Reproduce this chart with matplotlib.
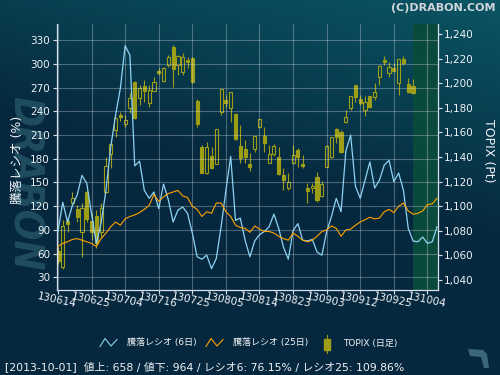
import numpy as np
import matplotlib
matplotlib.use('Agg')
import matplotlib.pyplot as plt
from matplotlib.patches import Polygon, Rectangle
from matplotlib.ticker import StrMethodFormatter

plt.rcParams['font.family'] = ['DejaVu Sans', 'Noto Sans CJK JP']

# trading days (yymmdd)
trading_days = [
    '130614', '130617', '130618', '130619', '130620', '130621', '130624', '130625',
    '130626', '130627', '130628', '130701', '130702', '130703', '130704', '130705',
    '130708', '130709', '130710', '130711', '130712', '130716', '130717', '130718',
    '130719', '130722', '130723', '130724', '130725', '130726', '130729', '130730',
    '130731', '130801', '130802', '130805', '130806', '130807', '130808', '130809',
    '130812', '130813', '130814', '130815', '130816', '130819', '130820', '130821',
    '130822', '130823', '130826', '130827', '130828', '130829', '130830', '130902',
    '130903', '130904', '130905', '130906', '130909', '130910', '130911', '130912',
    '130913', '130917', '130918', '130919', '130920', '130924', '130925', '130926',
    '130927', '130930', '131001', '131002', '131003', '131004', '131007', '131008',
]

# 騰落レシオ 6日 / 25日 (%)
ratio6 = [88, 125, 100, 121, 134, 159, 149, 110, 73, 99,
          140, 195, 235, 269, 323, 311, 171, 177, 140, 130,
          138, 117, 148, 128, 100, 115, 119, 111, 86, 56,
          53, 58, 41, 54, 94, 140, 183, 102, 105, 77,
          56, 76, 84, 88, 94, 110, 92, 68, 53, 89,
          98, 77, 76, 78, 62, 58, 88, 107, 130, 113,
          190, 210, 145, 130, 153, 176, 143, 153, 172, 178,
          151, 162, 140, 92, 76, 75, 81, 73, 75, 94]
ratio25 = [69, 73, 75, 78, 79, 77, 75, 73, 69, 79,
           86, 94, 100, 96, 104, 107, 109, 112, 116, 121,
           135, 126, 132, 136, 138, 140, 133, 131, 120, 116,
           107, 113, 111, 124, 124, 113, 107, 96, 93, 92,
           87, 95, 91, 88, 88, 86, 82, 79, 77, 86,
           82, 77, 75, 77, 82, 88, 90, 95, 92, 82,
           90, 91, 96, 100, 103, 106, 104, 105, 113, 116,
           112, 120, 124, 114, 110, 111, 114, 122, 123, 130]

# TOPIX daily candles
topix_open = [1063.6, 1050.1, 1087.8, 1102.8, 1097.4, 1078.6, 1111.7, 1087.8, 1091.9, 1079.1,
              1111.7, 1142.4, 1162.0, 1174.2, 1166.7, 1179.7, 1201.4, 1187.8, 1197.9, 1184.0,
              1194.0, 1210.3, 1202.2, 1215.0, 1229.4, 1215.0, 1209.5, 1219.1, 1220.9, 1185.6,
              1148.4, 1126.7, 1140.8, 1134.1, 1176.9, 1186.5, 1179.7, 1175.0, 1149.0, 1146.3,
              1134.3, 1146.3, 1164.2, 1157.1, 1135.4, 1142.4, 1139.8, 1125.3, 1114.5, 1134.9,
              1145.7, 1134.1, 1114.5, 1114.5, 1123.9, 1108.5, 1132.1, 1139.8, 1162.6, 1160.6,
              1168.8, 1179.7, 1198.7, 1187.3, 1178.3, 1189.7, 1188.7, 1205.0, 1219.1, 1208.2,
              1212.8, 1200.1, 1219.9, 1199.3, 1197.9]
topix_high = [1066.7, 1088.7, 1091.3, 1111.7, 1100.9, 1102.8, 1113.3, 1094.4, 1096.8, 1102.8,
              1140.2, 1153.0, 1172.8, 1176.7, 1174.2, 1191.9, 1202.2, 1198.7, 1202.8, 1198.7,
              1205.4, 1212.3, 1213.0, 1223.1, 1231.3, 1223.1, 1224.5, 1221.3, 1221.7, 1187.0,
              1149.8, 1152.5, 1148.4, 1163.0, 1195.5, 1190.5, 1193.0, 1175.5, 1166.1, 1153.9,
              1143.0, 1157.5, 1171.0, 1164.7, 1149.8, 1150.6, 1148.4, 1130.8, 1126.7, 1149.8,
              1147.0, 1141.6, 1119.1, 1118.6, 1128.0, 1120.4, 1149.8, 1156.5, 1163.4, 1162.0,
              1178.3, 1190.0, 1199.0, 1190.5, 1189.7, 1190.0, 1200.1, 1214.7, 1222.3, 1217.7,
              1216.9, 1220.0, 1222.3, 1204.1, 1203.3]
topix_low = [1052.8, 1048.7, 1079.1, 1100.9, 1087.3, 1058.7, 1087.3, 1072.4, 1065.6, 1075.1,
             1110.4, 1131.0, 1156.5, 1169.3, 1164.7, 1175.6, 1171.0, 1182.4, 1185.1, 1180.5,
             1193.5, 1206.8, 1201.0, 1213.6, 1197.3, 1206.8, 1206.8, 1212.3, 1200.1, 1164.2,
             1127.0, 1126.5, 1130.5, 1134.0, 1174.2, 1180.5, 1168.8, 1154.0, 1135.4, 1134.9,
             1128.8, 1144.1, 1163.4, 1144.3, 1134.9, 1141.0, 1125.3, 1113.1, 1113.1, 1134.5,
             1132.1, 1130.8, 1102.8, 1110.4, 1103.6, 1107.6, 1131.8, 1139.2, 1151.2, 1143.0,
             1167.5, 1178.3, 1185.1, 1182.4, 1173.4, 1179.7, 1186.5, 1198.7, 1215.0, 1205.4,
             1209.5, 1190.5, 1215.0, 1192.4, 1191.3]
topix_close = [1055.5, 1084.0, 1085.4, 1106.3, 1091.3, 1098.7, 1089.2, 1078.6, 1069.7, 1098.2,
               1132.9, 1150.4, 1171.5, 1172.8, 1170.2, 1187.8, 1171.5, 1196.0, 1194.0, 1194.6,
               1201.4, 1208.7, 1212.3, 1221.7, 1211.5, 1222.3, 1221.7, 1217.7, 1201.4, 1166.7,
               1127.2, 1148.4, 1130.8, 1162.6, 1195.2, 1183.8, 1192.7, 1154.4, 1138.9, 1140.2,
               1131.6, 1157.1, 1170.7, 1151.2, 1142.4, 1149.0, 1126.1, 1121.3, 1119.9, 1141.6,
               1139.8, 1132.7, 1112.5, 1116.6, 1105.0, 1117.8, 1149.0, 1156.1, 1156.5, 1144.3,
               1172.4, 1189.7, 1188.7, 1183.8, 1185.1, 1180.5, 1193.2, 1214.4, 1217.4, 1213.6,
               1210.3, 1219.6, 1216.4, 1193.2, 1192.4]

# footer values
info_date = '2013-10-01'
advances = 658
declines = 964
last_r6 = 76.15
last_r25 = 109.86

BLUE = '#8ed2f4'
ORANGE = '#ffa200'
OLIVE = '#9e9e16'
TXT = '#eef2f6'

fig = plt.figure(figsize=(5, 3.75), dpi=100)

# background gradient
bg = fig.add_axes([0, 0, 1, 1], zorder=0)
yy, xx = np.mgrid[0:375, 0:500]
t = np.clip(0.45 + xx / 1000 - yy / 250, 0, 1)[..., None]
teal = np.array([11, 88, 102]) / 255
navy = np.array([6, 40, 62]) / 255
bg.imshow(teal * t + navy * (1 - t), extent=(0, 500, 375, 0), aspect='auto')
bg.set_xlim(0, 500)
bg.set_ylim(375, 0)
bg.axis('off')
bg.text(24, 183, 'DRABON', rotation=-90, fontsize=29, style='italic', weight='heavy',
        fontstretch='condensed', color='#1f4d5f', ha='center', va='center')

# main axes
ax = fig.add_axes([57 / 500, 85 / 375, 381 / 500, 266 / 375])
ax2 = ax.twinx()
ax.set_zorder(ax2.get_zorder() + 1)
ax.patch.set_visible(False)
ax2.set_facecolor('#1a3562')

x = np.arange(len(ratio6))
xmax = len(ratio6) - 0.8
ax.set_xlim(-0.2, xmax)

# future zone
ax2.axvspan(trading_days.index('131001') - 0.1, xmax, color='#0a4a3c', lw=0, zorder=0)

# candles
o = np.array(topix_open)
h = np.array(topix_high)
l = np.array(topix_low)
c = np.array(topix_close)
xc = np.arange(len(o))
top = np.maximum(o, c)
bot = np.minimum(o, c)
up = c >= o
ax2.vlines(xc, top, h, color=OLIVE, lw=0.8, zorder=2)
ax2.vlines(xc, l, bot, color=OLIVE, lw=0.8, zorder=2)
ax2.bar(xc[up], (top - bot)[up], bottom=bot[up], width=0.66, facecolor='none',
        edgecolor=OLIVE, lw=0.8, zorder=3)
ax2.bar(xc[~up], (top - bot)[~up], bottom=bot[~up], width=0.66, facecolor=OLIVE,
        edgecolor=OLIVE, lw=0.8, zorder=3)
ax2.set_ylim(1031.6, 1248.4)
ax2.set_yticks(np.arange(1040, 1241, 20))
ax2.yaxis.set_major_formatter(StrMethodFormatter('{x:,.0f}'))

# ratio lines
ax.plot(x, ratio6, color=BLUE, lw=0.9, zorder=4)
ax.plot(x, ratio25, color=ORANGE, lw=0.8, zorder=4)
ax.set_ylim(14, 350.5)
ax.set_yticks(np.arange(30, 331, 30))
ax.set_xticks(x[::7])
ax.set_xticklabels(trading_days[::7], rotation=-12, rotation_mode='anchor',
                   ha='center', va='top')
ax.grid(True, color='white', alpha=0.28, lw=0.8)

for a in (ax, ax2):
    for s in a.spines.values():
        s.set_visible(False)
for s in ('left', 'right', 'bottom'):
    ax.spines[s].set_visible(True)
    ax.spines[s].set_color('#d8e0ee')
    ax.spines[s].set_linewidth(0.9)

ax.tick_params(axis='y', colors='#d8e0ee', labelcolor=TXT, labelsize=7.5, length=3, pad=2)
ax.tick_params(axis='x', colors='#d8e0ee', labelcolor=TXT, labelsize=7.5, length=3, pad=1)
ax2.tick_params(axis='y', colors='#d8e0ee', labelcolor=TXT, labelsize=7.5, length=3, pad=1.5)

fig.text(17.5 / 500, 1 - 160 / 375, '騰落レシオ (%)', rotation=90, ha='center',
         va='center', fontsize=9, color=TXT)
fig.text(488 / 500, 1 - 151 / 375, 'TOPIX (Pt)', rotation=-90, ha='center',
         va='center', fontsize=9, color=TXT)

# overlay: legend, footer, credits
ov = fig.add_axes([0, 0, 1, 1], zorder=5)
ov.set_xlim(0, 500)
ov.set_ylim(375, 0)
ov.axis('off')
zig_y = [346.5, 338.5, 346, 339.5]
ov.plot([100, 105, 111, 117], zig_y, color=BLUE, lw=0.8)
ov.text(127, 343, '騰落レシオ (6日)', fontsize=6.5, va='center', color=TXT)
ov.plot([206, 211, 217, 223], zig_y, color=ORANGE, lw=0.8)
ov.text(233, 343, '騰落レシオ (25日)', fontsize=6.5, va='center', color=TXT)
ov.plot([326.5, 326.5], [335, 353], color=OLIVE, lw=0.8)
ov.add_patch(Rectangle((323.5, 339), 6, 11, facecolor=OLIVE, edgecolor=OLIVE))
ov.text(343, 343, 'TOPIX (日足)', fontsize=6.5, va='center', color=TXT)

footer = (f'[{info_date}]  値上: {advances} / 値下: {declines} / '
          f'レシオ6: {last_r6:.2f}% / レシオ25: {last_r25:.2f}%')
ov.text(5, 366.5, footer, fontsize=7.8, va='center', color=TXT)
ov.text(496, 8, '(C)DRABON.COM', ha='right', va='center', fontsize=8,
        weight='bold', color='#d0d6da')
ov.add_patch(Polygon([(468, 349), (483, 350), (487, 354), (489, 368), (484, 368),
                      (481, 357), (470, 356)], closed=True, color='#3a6878', lw=0))

fig.savefig('out.png', dpi=100)
